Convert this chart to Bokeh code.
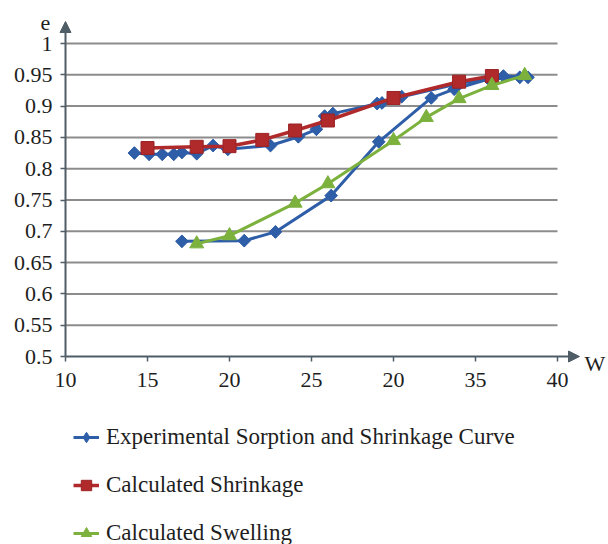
import math
from bokeh.plotting import figure
from bokeh.models import (FixedTicker, Arrow, NormalHead, Label, Legend, LegendItem,
                          LinearAxis, Range1d, CustomJSTickFormatter)
from bokeh.core.properties import value
from bokeh.embed import file_html
from bokeh.resources import INLINE

# ---- data ----
x_ticks = [10, 15, 20, 25, 30, 35, 40]
x_tick_labels = ["10", "15", "20", "25", "20", "35", "40"]
y_ticks = [0.5, 0.55, 0.6, 0.65, 0.7, 0.75, 0.8, 0.85, 0.9, 0.95, 1.0]
y_tick_labels = ["0.5", "0.55", "0.6", "0.65", "0.7", "0.75", "0.8", "0.85", "0.9", "0.95", "1"]

exp_w = [17.1, 20.9, 22.8, 26.2, 29.1, 32.3, 33.7, 35.8, 37.7, 38.2,
         36.7, 34.0, 30.5, 29.3, 29.0, 26.3, 25.8, 25.3, 24.2, 22.5,
         19.9, 19.0, 18.0, 17.1, 16.6, 15.9, 15.1, 14.2]
exp_e = [0.684, 0.685, 0.699, 0.757, 0.843, 0.913, 0.927, 0.943, 0.946, 0.946,
         0.948, 0.936, 0.915, 0.905, 0.904, 0.888, 0.884, 0.863, 0.851, 0.837,
         0.831, 0.837, 0.824, 0.826, 0.823, 0.823, 0.823, 0.825]

shr_w = [15, 18, 20, 22, 24, 26, 30, 34, 36]
shr_e = [0.833, 0.835, 0.836, 0.846, 0.861, 0.877, 0.913, 0.939, 0.948]

swl_w = [18, 20, 24, 26, 30, 32, 34, 36, 38]
swl_e = [0.680, 0.693, 0.745, 0.776, 0.845, 0.882, 0.912, 0.933, 0.949]

labels = ["Experimental Sorption and Shrinkage Curve", "Calculated Shrinkage", "Calculated Swelling"]

# ---- style / layout ----
BLUE = "#2f5ea8"
RED = "#b02a2c"
GREEN = "#7bb13c"
AXIS = "#4f5d66"
GRID = "#8c8c8c"
TXT = "#1e1e1e"
FONT = "'Liberation Serif', 'Times New Roman', 'DejaVu Serif', serif"

W, H = 608, 544
PX_X, PX_Y = 16.4, 626.0          # pixels per data unit
X_ORIG_PX, Y_ORIG_PX = 65, 188    # where (10, 0.5) sits: from left / from bottom
x_start = x_ticks[0] - X_ORIG_PX / PX_X
y_start = y_ticks[0] - Y_ORIG_PX / PX_Y
X_TIP = x_ticks[0] + 514 / PX_X   # arrow tips
Y_TIP = y_ticks[0] + 335 / PX_Y

p = figure(width=W, height=H,
           x_range=Range1d(x_start, x_start + W / PX_X),
           y_range=Range1d(y_start, y_start + H / PX_Y),
           output_backend="svg", toolbar_location=None,
           x_axis_location=None, y_axis_location=None,
           min_border=0)
p.outline_line_color = None
p.xgrid.visible = False
p.ygrid.visible = False

# axes: ticks from Bokeh, labels drawn as serif text at the same tick positions
xax = LinearAxis(fixed_location=y_ticks[0], bounds=(x_ticks[0], x_ticks[-1]))
yax = LinearAxis(fixed_location=x_ticks[0], bounds=(y_ticks[0], y_ticks[-1]))
for ax, tks in ((xax, x_ticks), (yax, y_ticks)):
    ax.ticker = FixedTicker(ticks=tks)
    ax.formatter = CustomJSTickFormatter(code="return '';")
    ax.axis_line_color = None
    ax.major_tick_in = 0
    ax.major_tick_out = 5
    ax.major_tick_line_color = AXIS
    ax.major_tick_line_width = 1.5
    ax.minor_tick_line_color = None
p.add_layout(xax, "below")
p.add_layout(yax, "left")

p.text(x=x_ticks, y=[y_ticks[0]] * len(x_ticks), text=x_tick_labels,
       text_font=value(FONT), text_font_size="22px", text_color=TXT,
       text_align="center", text_baseline="top", y_offset=16)
p.text(x=[x_ticks[0]] * len(y_ticks), y=y_ticks, text=y_tick_labels,
       text_font=value(FONT), text_font_size="22px", text_color=TXT,
       text_align="right", text_baseline="middle", x_offset=-13)

# horizontal grid lines from x=10 to x=40
gy = y_ticks[1:]
p.segment(x0=[x_ticks[0]] * len(gy), y0=gy, x1=[x_ticks[-1]] * len(gy), y1=gy,
          line_color=GRID, line_width=2)

# axes lines with arrow heads
p.add_layout(Arrow(end=NormalHead(size=11, fill_color=AXIS, line_color=AXIS),
                   x_start=x_ticks[0], y_start=y_ticks[0], x_end=x_ticks[0], y_end=Y_TIP,
                   line_color=AXIS, line_width=2))
p.add_layout(Arrow(end=NormalHead(size=11, fill_color=AXIS, line_color=AXIS),
                   x_start=x_ticks[0], y_start=y_ticks[0], x_end=X_TIP, y_end=y_ticks[0],
                   line_color=AXIS, line_width=2))

p.add_layout(Label(x=x_ticks[0], y=Y_TIP, x_offset=-20, y_offset=-1, text="e",
                   text_align="center", text_baseline="alphabetic",
                   text_font=FONT, text_font_size="22px", text_color=TXT))
p.add_layout(Label(x=X_TIP, y=y_ticks[0], x_offset=5, y_offset=-7, text="W",
                   text_align="left", text_baseline="alphabetic",
                   text_font=FONT, text_font_size="22px", text_color=TXT))

# series
b1 = p.line(exp_w, exp_e, line_color=BLUE, line_width=3)
# diamond (used by the legend) hidden under the rotated squares
b_leg = p.scatter(exp_w, exp_e, marker="diamond", size=12, fill_color=BLUE, line_color=BLUE)
b2 = p.scatter(exp_w, exp_e, marker="square", angle=math.pi / 4, size=9,
               fill_color=BLUE, line_color=BLUE)
r1 = p.line(shr_w, shr_e, line_color=RED, line_width=3.5)
r2 = p.scatter(shr_w, shr_e, marker="square", size=13, fill_color=RED, line_color="#9a2224")
g1 = p.line(swl_w, swl_e, line_color=GREEN, line_width=3)
g2 = p.scatter(swl_w, swl_e, marker="triangle", size=14, fill_color=GREEN, line_color=GREEN)

legend = Legend(items=[LegendItem(label=labels[0], renderers=[b1, b_leg]),
                       LegendItem(label=labels[1], renderers=[r1, r2]),
                       LegendItem(label=labels[2], renderers=[g1, g2])],
                location=(73, -2), orientation="vertical",
                glyph_width=26, glyph_height=26, label_height=26, spacing=22,
                padding=0, margin=0, label_standoff=7,
                border_line_color=None, background_fill_alpha=0,
                label_text_font=FONT, label_text_font_size="23px", label_text_color=TXT)
p.add_layout(legend)

open("out.html", "w").write(file_html(p, INLINE))
